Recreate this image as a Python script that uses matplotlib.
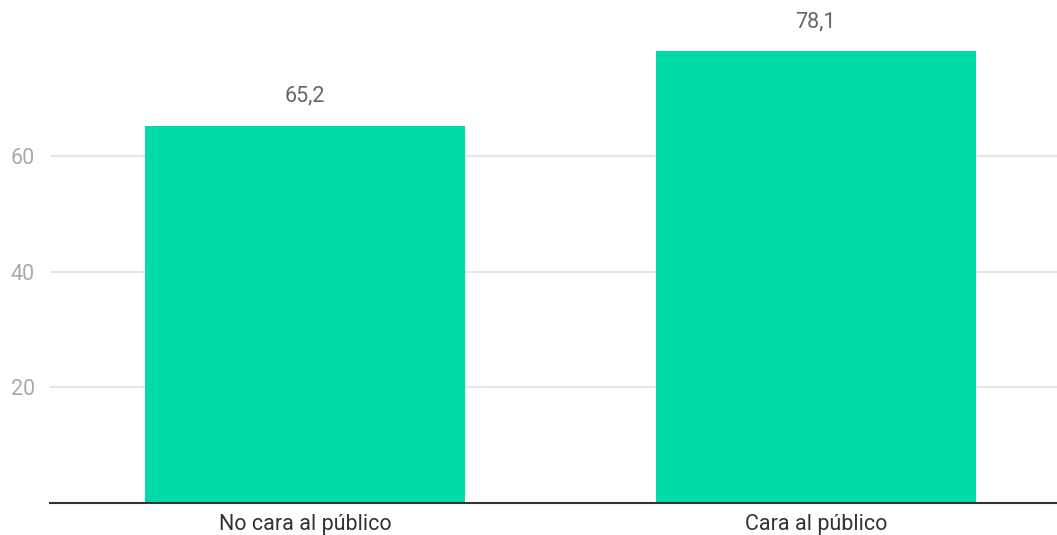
import matplotlib.pyplot as plt
import numpy as np

categories = ['No cara al público', 'Cara al público']
values = [65.2, 78.1]
labels = ['65,2', '78,1']
yticks = [20, 40, 60]

plt.rcParams['font.family'] = ['Roboto', 'DejaVu Sans']

fig = plt.figure(figsize=(10.57, 5.35), dpi=100)
ax = fig.add_axes([50/1057, 32/535, 1 - 50/1057, 1 - 32/535])

x = np.arange(len(categories))
ax.bar(x, values, width=0.626, color='#00dca8', zorder=3)

for xi, v, lab in zip(x, values, labels):
    ax.annotate(lab, (xi, v), xytext=(0, 14), textcoords='offset points',
                ha='center', va='bottom', fontsize=15.5, color='#666666')

ax.set_xlim(-0.499, 1.472)
ax.set_ylim(0, 87)
ax.set_yticks(yticks)
ax.set_yticklabels([str(t) for t in yticks], fontsize=15.5, color='#aaaaaa')
ax.set_xticks(x)
ax.set_xticklabels(categories, fontsize=15.5, color='#333333')
ax.tick_params(axis='y', length=0, pad=11)
ax.tick_params(axis='x', length=0, pad=8)
ax.grid(axis='y', color='#e6e6e6', linewidth=1.5, zorder=0)
for side in ['top', 'right', 'left']:
    ax.spines[side].set_visible(False)
ax.spines['bottom'].set_color('#333333')
ax.spines['bottom'].set_linewidth(1.5)
ax.spines['bottom'].set_zorder(4)

fig.savefig('out.png', dpi=100)
